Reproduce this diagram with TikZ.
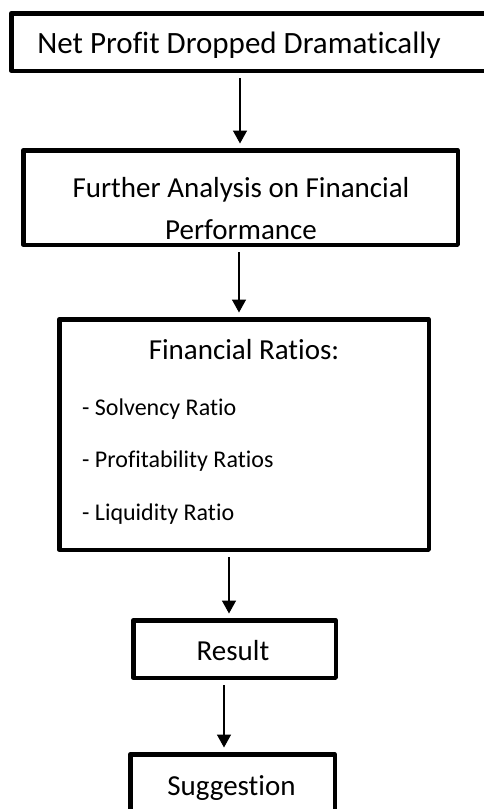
\documentclass[tikz,border=0pt]{standalone}
\usepackage{fontspec}
\setmainfont{Carlito}[Ligatures=NoCommon]
\usetikzlibrary{arrows.meta}
\newcommand{\flowsize}{\fontsize{29}{42}\selectfont}
\newcommand{\topsize}{\fontsize{31}{42}\selectfont}
\newcommand{\listsize}{\fontsize{24}{30}\selectfont}
\tikzset{
  box/.style={draw, line width=4.5pt, line join=round, inner sep=0pt},
  boxtext/.style={anchor=base, font=\flowsize, inner sep=0pt},
  listtext/.style={anchor=base west, font=\listsize, inner sep=0pt},
  flow/.style={-{Triangle[width=14pt,length=13pt]}, line width=1.6pt,
    shorten <=5pt, shorten >=4.5pt}
}

\begin{document}
\begin{tikzpicture}[x=1pt,y=-1pt]
\useasboundingbox (0,0) rectangle (484,809);

% boxes
\node (net) [box, minimum width=486.5pt, minimum height=57.5pt] at (254.5,42) {};
\node (analysis) [box, minimum width=434.5pt, minimum height=94.5pt] at (240.5,197.5) {};
\node (ratios) [box, minimum width=369.5pt, minimum height=230.5pt] at (244,434.5) {};
\node (result) [box, minimum width=202.5pt, minimum height=57.5pt] at (234.5,649) {};
\node (suggest) [box, minimum width=204.5pt, minimum height=59.5pt] at (232.5,784) {};

% texts
\node (nettext) [boxtext, font=\topsize] at (239,53) {Net Profit Dropped Dramatically};
\node (analysistop) [boxtext] at (241,197) {Further Analysis on Financial};
\node (analysisbot) [boxtext] at (241,239) {Performance};
\node (ratiostitle) [boxtext] at (244,359) {Financial Ratios:};
\node (solvency) [listtext] at (82,415) {- Solvency Ratio};
\node (profit) [listtext] at (82,467) {- Profitability Ratios};
\node (liquid) [listtext] at (82,520) {- Liquidity Ratio};
\node (resulttext) [boxtext] at (233,660) {Result};
\node (suggesttext) [boxtext] at (231.5,795) {Suggestion};

% arrows
\draw[flow] ([xshift=-14.5pt]net.south) -- ([xshift=-14.5pt]net.south |- analysis.north);
\draw[flow] ([xshift=-1.5pt]analysis.south) -- ([xshift=-1.5pt]analysis.south |- ratios.north);
\draw[flow] ([xshift=-15pt]ratios.south) -- ([xshift=-15pt]ratios.south |- result.north);
\draw[flow] ([xshift=-10.5pt]result.south) -- ([xshift=-10.5pt]result.south |- suggest.north);
\end{tikzpicture}
\end{document}
